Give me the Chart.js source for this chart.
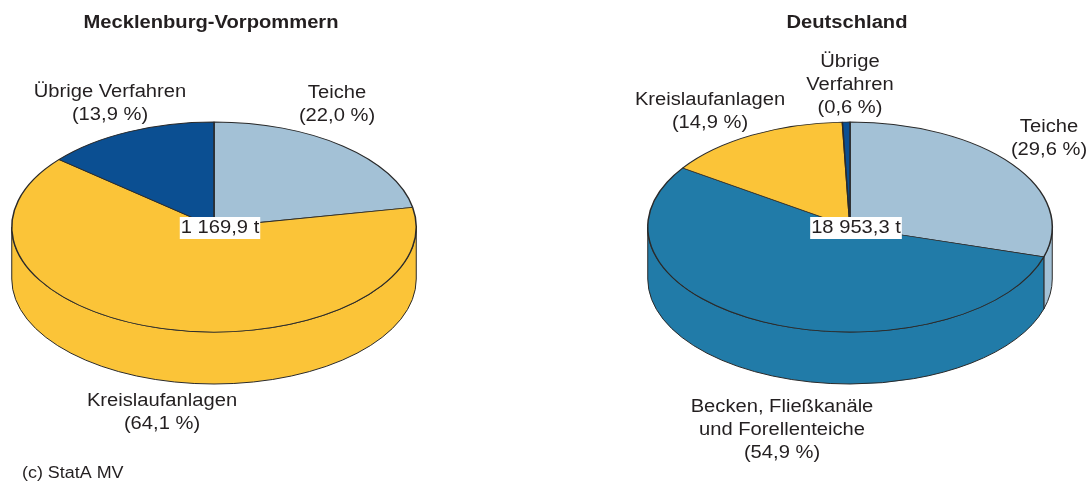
<!DOCTYPE html>
<html>
<head>
<meta charset="utf-8">
<script src="https://cdn.jsdelivr.net/npm/chart.js@4/dist/chart.umd.min.js"></script>
<style>
  html, body { margin: 0; padding: 0; background: #fff; }
  #wrap { position: relative; width: 1091px; height: 487px; }
  canvas { position: absolute; left: 0; top: 0; }
</style>
</head>
<body>
<div id="wrap">
  <canvas id="c1" width="1091" height="487"></canvas>
  <canvas id="c2" width="1091" height="487"></canvas>
</div>
<script>
// ---------- DATA ----------
const titleMV = 'Mecklenburg-Vorpommern';
const categoriesMV = ['Teiche', 'Kreislaufanlagen', 'Übrige Verfahren'];
const valuesMV = [22.0, 64.1, 13.9];
const labelLinesMV = [['Teiche'], ['Kreislaufanlagen'], ['Übrige Verfahren']];
const totalMV = '1 169,9 t';

const titleDE = 'Deutschland';
const categoriesDE = ['Teiche', 'Becken, Fließkanäle und Forellenteiche', 'Kreislaufanlagen', 'Übrige Verfahren'];
const valuesDE = [29.6, 54.9, 14.9, 0.6];
const labelLinesDE = [['Teiche'], ['Becken, Fließkanäle', 'und Forellenteiche'], ['Kreislaufanlagen'], ['Übrige', 'Verfahren']];
const totalDE = '18 953,3 t';

const sourceText = '(c) StatA MV';

// ---------- STYLE / LAYOUT ----------
const colorsMV = ['#A3C1D6', '#FBC438', '#0B4F92'];
const colorsDE = ['#A3C1D6', '#217BA8', '#FBC438', '#0B4F92'];
const TEXT = '#231F20';
const FONT = '"Liberation Sans", Arial, sans-serif';
const STRETCH = 1.12;
const RY = 105, CY = 227, DEPTH = 52, LINE_H = 23;

const layoutMV = { cx: 214, titleX: 211, labelPos: [[337, 93], [162, 401], [110, 92]], source: true };
const layoutDE = { cx: 850, titleX: 847, labelPos: [[1049, 127], [782, 407], [710, 100], [850, 62]], source: false };

function fmtPct(v) { return '(' + v.toFixed(1).replace('.', ',') + ' %)'; }

function drawText(ctx, str, x, y, size, bold, align) {
  ctx.save();
  ctx.font = (bold ? 'bold ' : '') + size + 'px ' + FONT;
  ctx.fillStyle = TEXT;
  ctx.textBaseline = 'middle';
  ctx.textAlign = align || 'center';
  ctx.translate(x, y);
  ctx.scale(STRETCH, 1);
  ctx.fillText(str, 0, 0);
  ctx.restore();
}

function makePlugin(title, values, labelLines, total, layout) {
  return {
    id: 'pie3d',
    beforeDatasetsDraw(chart) {
      const ctx = chart.ctx;
      const arcs = chart.getDatasetMeta(0).data;
      const colors = chart.data.datasets[0].backgroundColor;
      // side walls
      arcs.forEach((arc, i) => {
        const s = arc.startAngle, e = arc.endAngle, rx = arc.outerRadius;
        const ranges = [[0, Math.PI], [2 * Math.PI, 3 * Math.PI], [-2 * Math.PI, -Math.PI]];
        ranges.forEach(([r0, r1]) => {
          const a1 = Math.max(s, r0), a2 = Math.min(e, r1);
          if (a2 <= a1) return;
          ctx.save();
          ctx.beginPath();
          ctx.ellipse(arc.x, CY, rx, RY, 0, a1, a2, false);
          ctx.ellipse(arc.x, CY + DEPTH, rx, RY, 0, a2, a1, true);
          ctx.closePath();
          ctx.fillStyle = colors[i];
          ctx.fill();
          ctx.lineWidth = 1;
          ctx.strokeStyle = '#2a2a2a';
          ctx.stroke();
          ctx.restore();
        });
      });
      // squash the top into an ellipse
      const arc0 = arcs[0];
      const k = RY / arc0.outerRadius;
      ctx.save();
      ctx.translate(0, CY);
      ctx.scale(1, k);
      ctx.translate(0, -arc0.y);
    },
    afterDatasetsDraw(chart) {
      const ctx = chart.ctx;
      ctx.restore();
      // title
      drawText(ctx, title, layout.titleX, 23, 18, true);
      // center total box
      ctx.save();
      ctx.font = '18px ' + FONT;
      const w = ctx.measureText(total).width * STRETCH + 2;
      ctx.fillStyle = '#ffffff';
      const tx = layout.cx + 6;
      ctx.fillRect(tx - w / 2, 217, w, 22);
      ctx.restore();
      drawText(ctx, total, tx, 228.5, 18, false);
      // category labels
      labelLines.forEach((lines, i) => {
        const [x, y] = layout.labelPos[i];
        const all = lines.concat([fmtPct(values[i])]);
        all.forEach((ln, j) => drawText(ctx, ln, x, y + j * LINE_H, 18, false));
      });
      if (layout.source) drawText(ctx, sourceText, 22, 474, 16, false, 'left');
    }
  };
}

function makePie(id, categories, values, colors, labelLines, title, total, layout) {
  const R = 203;
  const left = layout.cx - R;
  const right = 1091 - left - 2 * R;
  return new Chart(document.getElementById(id), {
    type: 'pie',
    data: {
      labels: categories,
      datasets: [{
        data: values,
        backgroundColor: colors,
        borderColor: '#2a2a2a',
        borderWidth: 1.5,
        clip: false
      }]
    },
    options: {
      responsive: false,
      animation: false,
      events: [],
      layout: { padding: { left: left, right: right, top: 40, bottom: 41 } },
      plugins: { legend: { display: false }, tooltip: { enabled: false }, title: { display: false } }
    },
    plugins: [makePlugin(title, values, labelLines, total, layout)]
  });
}

makePie('c1', categoriesMV, valuesMV, colorsMV, labelLinesMV, titleMV, totalMV, layoutMV);
makePie('c2', categoriesDE, valuesDE, colorsDE, labelLinesDE, titleDE, totalDE, layoutDE);
</script>
</body>
</html>
